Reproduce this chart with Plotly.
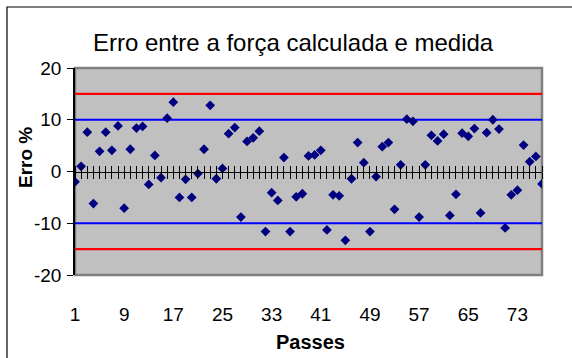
import plotly.graph_objects as go

passes = list(range(1, 78))
erro = [-2.0, 1.0, 7.6, -6.2, 3.9, 7.6, 4.1, 8.8, -7.1, 4.3,
        8.4, 8.7, -2.5, 3.1, -1.2, 10.3, 13.4, -5.0, -1.5, -5.0,
        -0.4, 4.3, 12.8, -1.4, 0.6, 7.3, 8.5, -8.8, 5.8, 6.5,
        7.8, -11.6, -4.1, -5.6, 2.7, -11.6, -4.9, -4.3, 3.0, 3.2,
        4.1, -11.3, -4.5, -4.7, -13.3, -1.4, 5.6, 1.7, -11.6, -1.0,
        4.8, 5.6, -7.3, 1.3, 10.1, 9.7, -8.8, 1.3, 7.0, 5.9,
        7.2, -8.5, -4.4, 7.4, 6.8, 8.3, -8.0, 7.5, 10.0, 8.2,
        -10.9, -4.5, -3.6, 5.1, 1.9, 2.9, -2.4]
limite_azul = 10
limite_vermelho = 15
x_ticks = [1, 9, 17, 25, 33, 41, 49, 57, 65, 73]
y_ticks = [-20, -10, 0, 10, 20]
y_ticktext = ["-20", "-10", "0", "10", "20"]

FONT = "Liberation Sans, Arial, sans-serif"
W, H = 572, 358
ML, MR, MT, MB = 75, 30, 68, 83
PW = W - ML - MR
PH = H - MT - MB

def px(xp):
    return (xp - ML) / PW

def py(yp):
    return (H - MB - yp) / PH

fig = go.Figure()
x_ends = [passes[0], passes[-1]]
for val, col in [(limite_vermelho, "#FF0000"), (-limite_vermelho, "#FF0000"),
                 (limite_azul, "#0000FF"), (-limite_azul, "#0000FF")]:
    fig.add_trace(go.Scatter(x=x_ends, y=[val, val], mode="lines",
                             line=dict(color=col, width=2.2),
                             hoverinfo="skip", showlegend=False))

fig.add_trace(go.Scatter(x=passes, y=erro, mode="markers",
                         marker=dict(symbol="diamond", size=7.5, color="#000080",
                                     line=dict(width=0)),
                         showlegend=False, xaxis="x2"))

xr = [passes[0], passes[-1]]
fig.update_layout(
    width=W, height=H,
    margin=dict(l=ML, r=MR, t=MT, b=MB),
    paper_bgcolor="white",
    plot_bgcolor="#C0C0C0",
    font=dict(family=FONT, color="black", size=19),
    xaxis=dict(range=xr, tickvals=x_ticks, ticktext=[str(v) for v in x_ticks],
               showgrid=False, zeroline=False, showline=False, ticks="",
               ticklabelstandoff=26, tickfont=dict(size=19)),
    xaxis2=dict(range=xr, overlaying="x", anchor="free", position=0.5, side="bottom",
                tick0=1, dtick=1, ticks="outside", ticklen=6, tickwidth=1, tickcolor="black",
                showline=True, linecolor="black", linewidth=1,
                showticklabels=False, showgrid=False, zeroline=False),
    xaxis3=dict(range=xr, overlaying="x", anchor="free", position=0.5, side="top",
                tick0=1, dtick=1, ticks="outside", ticklen=6, tickwidth=1, tickcolor="black",
                showline=False, showticklabels=False, showgrid=False, zeroline=False),
    yaxis=dict(range=[-20, 20], tickvals=y_ticks, ticktext=y_ticktext,
               showgrid=False, zeroline=False,
               showline=True, linecolor="black", linewidth=1.5,
               ticks="outside", ticklen=6, tickcolor="black",
               tickfont=dict(size=19), ticklabelstandoff=2),
    shapes=[
        dict(type="rect", xref="paper", yref="paper", x0=0, x1=1, y0=0, y1=1,
             line=dict(color="#808080", width=2.5), layer="below"),
        dict(type="rect", xref="paper", yref="paper", x0=px(7), x1=px(W + 20),
             y0=py(H + 20), y1=py(7), line=dict(color="black", width=1.2)),
    ],
    annotations=[
        dict(text="Erro entre a força calculada e medida", xref="paper", yref="paper",
             x=px(293), y=py(42), showarrow=False, xanchor="center", yanchor="middle",
             font=dict(size=24)),
        dict(text="<b>Passes</b>", xref="paper", yref="paper",
             x=px(310), y=py(342), showarrow=False, xanchor="center", yanchor="middle",
             font=dict(size=20)),
        dict(text="<b>Erro %</b>", xref="paper", yref="paper",
             x=px(25), y=py(158), showarrow=False, xanchor="center", yanchor="middle",
             textangle=-90, font=dict(size=19)),
    ],
)
# helper trace to activate the upper half of the crossing tick marks
fig.add_trace(go.Scatter(x=xr, y=[0, 0], xaxis="x3", mode="lines",
                         line=dict(width=0), hoverinfo="skip", showlegend=False))

fig.write_html("out.html", config={"displayModeBar": False},
               post_script="document.body.style.margin='0';")
